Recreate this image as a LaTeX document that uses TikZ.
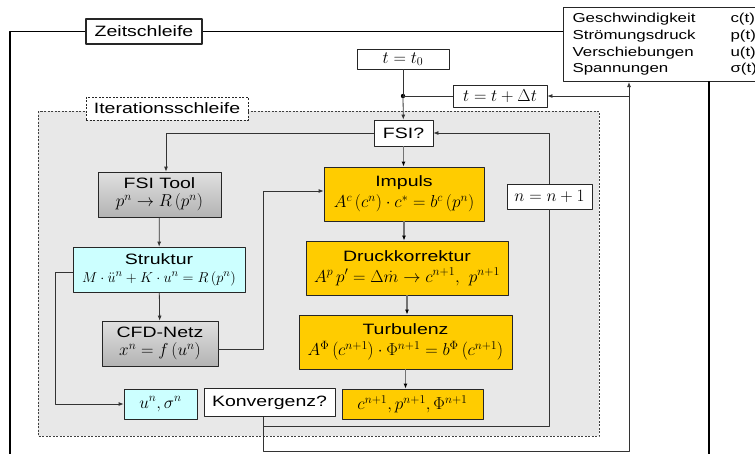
\documentclass[tikz,border=0pt]{standalone}
\usepackage{fontspec}
\setmainfont{Liberation Sans}[FakeStretch=1.3]
\usetikzlibrary{arrows.meta}
\definecolor{fsiyellow}{RGB}{255,204,0}
\definecolor{fsicyan}{RGB}{204,255,255}
\definecolor{fsigray}{RGB}{232,232,232}
\newcommand\fml[2][17]{{\fontsize{#1}{19}\selectfont$#2$}}

\begin{document}
\begin{tikzpicture}[x=1pt,y=-1pt,line join=round,>={Latex[length=5pt,width=4pt]},
	font=\fontsize{15}{17}\selectfont,
	box/.style={draw=black!85,fill=white,align=center,inner sep=1pt,line width=0.8pt},
	toolbox/.style={box,top color=black!12,bottom color=black!30},
	cyanbox/.style={box,fill=fsicyan},
	yellowbox/.style={box,fill=fsiyellow},
	loopbox/.style={box,line width=1.1pt},
	flow/.style={->,draw=black!80,line width=0.8pt},
	chain/.style={-{Latex[length=5pt,width=4pt,color=black]},draw=black!55,line width=1.2pt}]
	\useasboundingbox (0,0) rectangle (755,453);
	\clip (0,0) rectangle (755,453);
	% Iterationsschleife
	\filldraw[fill=fsigray,draw=black!75,dash pattern=on 2pt off 1.5pt] (38,111) rectangle (599,436);
	\node[box,dash pattern=on 2pt off 1.5pt,minimum width=162,minimum height=23] (iter) at (167,108.5) {Iterationsschleife};
	% Zeitschleife
	\node[loopbox,minimum width=116,minimum height=25] (zeit) at (144,31.5) {Zeitschleife};
	\node[loopbox,anchor=north west,align=left,inner xsep=9pt,inner ysep=3pt,minimum height=74,
		font=\fontsize{13}{16.7}\selectfont] (res) at (563,7) {%
		\begin{tabular}{@{}p{158pt}@{}l@{}}
			Geschwindigkeit & c(t)\\
			Strömungsdruck & p(t)\\
			Verschiebungen & u(t)\\
			Spannungen & σ(t)
		\end{tabular}};
	\draw[line width=1.1pt] (zeit.east) -- (zeit.east -| res.west);
	\draw[line width=1.1pt] (zeit.west) -- (10,31.5) -- (10,460);
	\draw[line width=2pt] (709,81) -- (709,460);
	% Zeitschritt
	\node[box,minimum width=92,minimum height=20] (t0) at (403,59) {\fml{t = t_0}};
	\node[box,minimum width=94,minimum height=22] (tdt) at (500,96) {\fml{t = t + \Delta t}};
	\node[box,minimum width=59,minimum height=26] (fsi) at (403.5,133) {FSI?};
	% Struktur
	\node[toolbox,minimum width=123,minimum height=45] (tool) at (159.5,194.5) {FSI Tool\\[1pt]\fml{p^n \to R\left(p^n\right)}};
	\node[cyanbox,minimum width=172,minimum height=45] (strukt) at (159,269.5) {Struktur\\[1pt]\fml[15.5]{M\cdot\ddot u^n + K\cdot u^n = R\left(p^n\right)}};
	\node[toolbox,minimum width=116,minimum height=45] (cfd) at (160,343.5) {CFD-Netz\\[1pt]\fml{x^n = f\left(u^n\right)}};
	\node[cyanbox,minimum width=73,minimum height=30] (us) at (160.5,404) {\fml{u^n, \sigma^n}};
	\node[box,minimum width=131,minimum height=28] (konv) at (269.5,402.5) {Konvergenz?};
	% Stroemung
	\node[yellowbox,minimum width=160,minimum height=54] (imp) at (404,194) {Impuls\\[4pt]\fml{A^c\left(c^n\right)\cdot c^* = b^c\left(p^n\right)}};
	\node[yellowbox,minimum width=202,minimum height=54] (druck) at (407,268) {Druckkorrektur\\[4pt]\fml{A^p\,p' = \Delta\dot m \to c^{n+1},\ p^{n+1}}};
	\node[yellowbox,minimum width=213,minimum height=54] (turb) at (405.5,342) {Turbulenz\\[4pt]\fml{A^\Phi\left(c^{n+1}\right)\cdot\Phi^{n+1} = b^\Phi\left(c^{n+1}\right)}};
	\node[yellowbox,minimum width=141,minimum height=30] (neu) at (412.5,404) {\fml{c^{n+1}, p^{n+1}, \Phi^{n+1}}};
	\node[box,minimum width=85,minimum height=25] (nplus) at (549.5,196.5) {\fml{n = n + 1}};
	% Verbindungen
	\coordinate (split) at (t0 |- tdt);
	\coordinate (zweig) at (629,96);
	\coordinate (unten) at (629,451);
	\coordinate (mitte) at (549.5,426);
	\fill (split) circle (2.2);
	\draw[flow,-] (t0) -- (split);
	\draw[flow] (split) -- (fsi);
	\draw[flow,-] (tdt) -- (split);
	\draw[flow] (zweig) -- (tdt);
	\draw[flow] (zweig) -- (zweig |- res.south);
	\draw[flow,-] ([xshift=-6.5pt]konv.south) |- (unten) -- (zweig);
	\draw[flow,-] ([xshift=-6.5pt]konv.south) |- (mitte) -- (nplus.south);
	\draw[flow] (nplus.north) |- (fsi.east);
	\draw[flow] (fsi.west) -| ([xshift=6.5pt]tool.north);
	\draw[flow] (tool) -- (strukt);
	\draw[flow] (strukt) -- (cfd);
	\draw[flow] ([yshift=-2.5pt]strukt.west) -- ++(-17,0) |- (us.west);
	\draw[flow] ([yshift=-5.5pt]cfd.east) -- ++(45,0) |- ([yshift=3pt]imp.west);
	\foreach \a/\b in {fsi/imp,imp/druck,druck/turb,turb/neu}
	\draw[chain] (\a.south) -- (\a.south |- \b.north);
\end{tikzpicture}
\end{document}
